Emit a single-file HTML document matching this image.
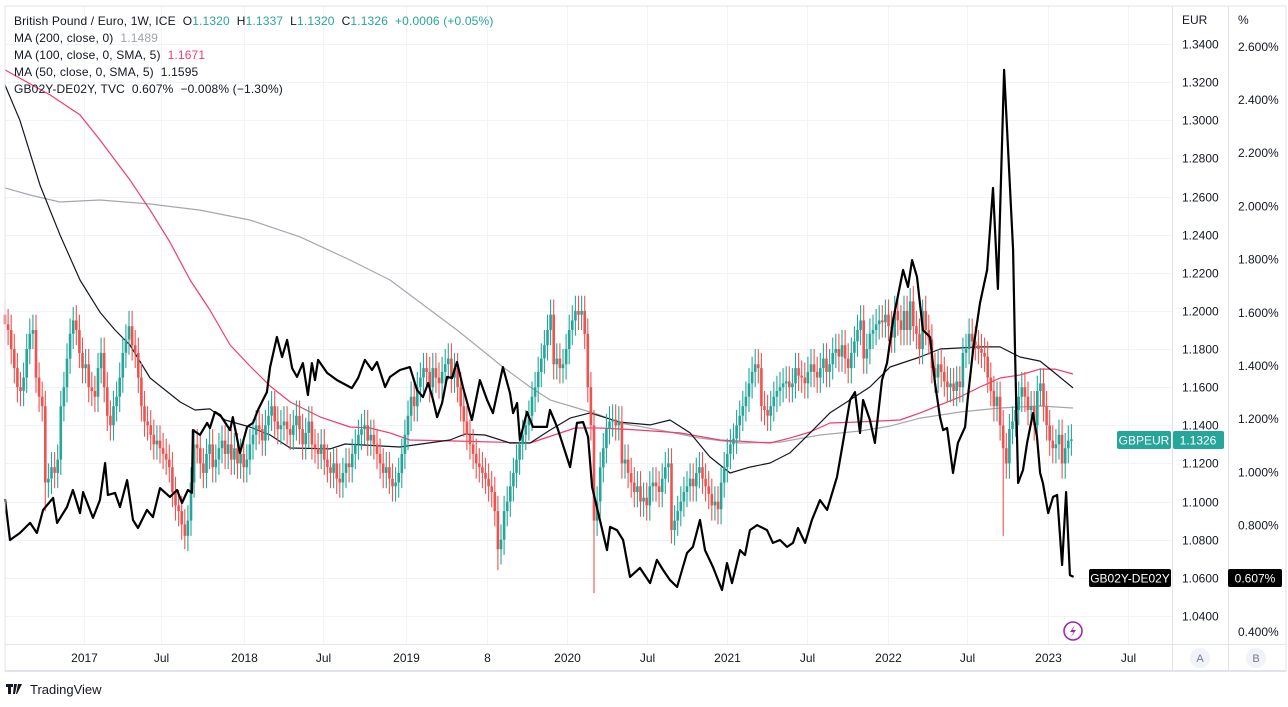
<!DOCTYPE html>
<html><head><meta charset="utf-8"><style>
html,body{margin:0;padding:0;background:#fff;}
body{width:1288px;height:702px;overflow:hidden;font-family:"Liberation Sans",sans-serif;}
svg text{font-family:"Liberation Sans",sans-serif;}
</style></head><body>
<svg id="chart" width="1288" height="702" viewBox="0 0 1288 702" xmlns="http://www.w3.org/2000/svg">
<rect x="0" y="0" width="1288" height="702" fill="#fff"/>
<g id="grid"></g>
<g id="ma"></g>
<g id="candles"></g>
<g id="spread"></g>
<g id="frame">
<line x1="5" y1="6" x2="1286" y2="6" stroke="#e0e3eb"/>
<line x1="5" y1="6" x2="5" y2="671" stroke="#e0e3eb"/>
<line x1="1286" y1="6" x2="1286" y2="671" stroke="#e0e3eb"/>
<line x1="1172.5" y1="6" x2="1172.5" y2="671" stroke="#e0e3eb"/>
<line x1="1228.5" y1="6" x2="1228.5" y2="671" stroke="#e0e3eb"/>
<line x1="5" y1="644.5" x2="1286" y2="644.5" stroke="#e0e3eb"/>
<line x1="5" y1="671" x2="1286" y2="671" stroke="#e0e3eb" stroke-width="2"/>
</g>
<g id="axes"></g>
<g font-size="12" fill="#131722" letter-spacing="0.15">
<text x="14" y="25" xml:space="preserve">British Pound / Euro, 1W, ICE  O<tspan fill="#26a69a">1.1320</tspan>  H<tspan fill="#26a69a">1.1337</tspan>  L<tspan fill="#26a69a">1.1320</tspan>  C<tspan fill="#26a69a">1.1326</tspan>  <tspan fill="#26a69a">+0.0006 (+0.05%)</tspan></text>
<text x="14" y="42" xml:space="preserve">MA (200, close, 0)  <tspan fill="#a0a3ab">1.1489</tspan></text>
<text x="14" y="59" xml:space="preserve">MA (100, close, 0, SMA, 5)  <tspan fill="#f23b6b">1.1671</tspan></text>
<text x="14" y="76" xml:space="preserve">MA (50, close, 0, SMA, 5)  1.1595</text>
<text x="14" y="93" xml:space="preserve">GB02Y-DE02Y, TVC  0.607%  −0.008% (−1.30%)</text>
</g>
<g>
<rect x="1117" y="431" width="54" height="18" rx="2" fill="#26a69a"/>
<text x="1144" y="444.5" text-anchor="middle" font-size="12" fill="#fff">GBPEUR</text>
<rect x="1173" y="431" width="51" height="18" rx="2" fill="#26a69a"/>
<text x="1198" y="444.5" text-anchor="middle" font-size="12" fill="#fff">1.1326</text>
</g>
<g>
<rect x="1089" y="569" width="82" height="18" rx="2" fill="#000"/>
<text x="1130" y="582.5" text-anchor="middle" font-size="12" fill="#fff">GB02Y-DE02Y</text>
<rect x="1228" y="569" width="54" height="18" rx="2" fill="#000"/>
<text x="1255" y="582.5" text-anchor="middle" font-size="12" fill="#fff">0.607%</text>
</g>
<g>
<circle cx="1073" cy="631" r="9" fill="none" stroke="#9c27b0" stroke-width="1.6"/>
<path d="M1075 625 L1070 632 L1073.5 632 L1071 637 L1076 630 L1072.5 630 Z" fill="#9c27b0"/>
</g>
<g><circle cx="1200" cy="658" r="10" fill="#f0f3fa"/><text x="1200" y="662" text-anchor="middle" font-size="11" fill="#787b86">A</text></g>
<g><circle cx="1256" cy="658" r="10" fill="#f0f3fa"/><text x="1256" y="662" text-anchor="middle" font-size="11" fill="#787b86">B</text></g>
<g>
<path d="M6 684 h7 v3 h-2 v7 h-3 v-7 h-2 z M14 684 h3 l-2 10 h-2 z M18 684 h4 l-5 10 h-1 z" fill="#131722"/>
<text x="30" y="694" font-size="13" fill="#131722">TradingView</text>
</g>
</svg>
<script>
// weekly closes, week 0 ~ early Jul 2016
const closes=[1.193,1.190,1.180,1.170,1.160,1.158,1.165,1.180,1.188,1.190,
1.165,1.155,1.150,1.110,1.112,1.118,1.115,1.122,1.150,1.160,
1.175,1.188,1.195,1.190,1.178,1.170,1.172,1.160,1.158,1.155,
1.170,1.178,1.160,1.145,1.140,1.150,1.155,1.165,1.178,1.185,
1.192,1.182,1.178,1.165,1.150,1.142,1.140,1.135,1.130,1.132,
1.128,1.125,1.122,1.118,1.105,1.098,1.095,1.088,1.082,1.090,
1.110,1.130,1.128,1.120,1.115,1.125,1.130,1.118,1.122,1.128,
1.132,1.125,1.130,1.122,1.128,1.120,1.125,1.118,1.122,1.130,
1.135,1.140,1.138,1.132,1.140,1.145,1.150,1.142,1.138,1.140,
1.142,1.138,1.135,1.140,1.145,1.138,1.130,1.136,1.142,1.130,
1.128,1.125,1.130,1.122,1.118,1.115,1.120,1.112,1.110,1.115,
1.120,1.118,1.125,1.130,1.135,1.138,1.140,1.132,1.135,1.130,
1.125,1.120,1.115,1.118,1.112,1.108,1.110,1.115,1.125,1.135,
1.145,1.155,1.150,1.160,1.165,1.170,1.168,1.160,1.170,1.165,
1.162,1.168,1.172,1.175,1.165,1.170,1.160,1.150,1.142,1.135,
1.130,1.125,1.120,1.118,1.115,1.112,1.108,1.105,1.095,1.075,
1.080,1.095,1.100,1.108,1.115,1.122,1.130,1.135,1.140,1.145,
1.155,1.160,1.168,1.175,1.182,1.190,1.198,1.172,1.175,1.170,
1.172,1.180,1.190,1.195,1.200,1.198,1.200,1.188,1.160,1.140,
1.090,1.100,1.118,1.128,1.138,1.142,1.143,1.140,1.142,1.120,
1.122,1.115,1.110,1.105,1.108,1.100,1.102,1.098,1.108,1.110,
1.108,1.105,1.112,1.118,1.120,1.085,1.090,1.095,1.100,1.105,
1.108,1.112,1.108,1.115,1.118,1.112,1.108,1.104,1.098,1.100,
1.096,1.110,1.118,1.125,1.130,1.133,1.140,1.145,1.150,1.155,
1.162,1.168,1.172,1.170,1.150,1.148,1.145,1.150,1.155,1.158,
1.160,1.162,1.163,1.160,1.162,1.170,1.166,1.165,1.162,1.168,
1.172,1.168,1.165,1.170,1.175,1.168,1.172,1.178,1.180,1.176,
1.182,1.175,1.170,1.178,1.184,1.190,1.195,1.175,1.180,1.188,
1.190,1.193,1.195,1.194,1.198,1.192,1.186,1.200,1.195,1.190,
1.200,1.190,1.205,1.192,1.188,1.180,1.200,1.190,1.185,1.170,
1.165,1.172,1.168,1.163,1.160,1.162,1.158,1.163,1.160,1.178,
1.180,1.188,1.184,1.182,1.180,1.178,1.176,1.165,1.158,1.150,
1.155,1.140,1.128,1.120,1.138,1.142,1.148,1.155,1.160,1.155,
1.148,1.150,1.140,1.158,1.162,1.150,1.140,1.132,1.128,1.130,
1.135,1.120,1.128,1.1320,1.1326];
const firstOpen=1.198;
// notable wick extremes [week, low]
const lowWicks=[[13,1.095],[58,1.075],[159,1.064],[190,1.052],[215,1.078],[322,1.082],[341,1.112]];
const highWicks=[[0,1.205],[22,1.202],[184,1.208],[292,1.212],[296,1.206]];
const eurTicks=[1.34,1.32,1.30,1.28,1.26,1.24,1.22,1.20,1.18,1.16,1.14,1.12,1.10,1.08,1.06,1.04];
const pctTicks=[2.6,2.4,2.2,2.0,1.8,1.6,1.4,1.2,1.0,0.8,0.6,0.4];
const timeLabels=["2017","Jul","2018","Jul","2019","8","2020","Jul","2021","Jul","2022","Jul","2023","Jul"];
const timeWeeks=[25.5,50.3,77.1,102.6,129.4,155.5,181.3,207.1,232.9,258.7,284.8,310.3,336.5,362.3];
const ma50=[[0,1.3185],[4.8,1.300],[11.3,1.266],[17.7,1.240],[24.2,1.2162],[30.6,1.1994],[35.5,1.190],[40.3,1.1821],[46.8,1.1648],[56.5,1.1522],[61.3,1.148],[66.1,1.1486],[71,1.1428],[79,1.1391],[85.5,1.1349],[92,1.1281],[104.8,1.1276],[109.7,1.1302],[127.4,1.1286],[143.5,1.1323],[148.4,1.1354],[154.8,1.1349],[162.9,1.1307],[169.4,1.1307],[175.8,1.1375],[182.3,1.1438],[188.7,1.1465],[198.4,1.1417],[208.1,1.1402],[214.5,1.1428],[221,1.136],[227.4,1.1234],[233.9,1.115],[240.3,1.1181],[246.8,1.1202],[253.2,1.1255],[259.7,1.136],[266.1,1.1465],[272.6,1.1533],[279,1.1601],[285.5,1.1706],[295.2,1.1758],[301.6,1.18],[314.5,1.1811],[321,1.1811],[327.4,1.1758],[333.9,1.1737],[338.7,1.1674],[344.5,1.1596]];
const ma100=[[0,1.3264],[14.5,1.3133],[24.2,1.3028],[30.6,1.2897],[40.3,1.2687],[46.8,1.2529],[53.2,1.2361],[59.7,1.2162],[66.1,1.2005],[72.6,1.1821],[79,1.1711],[85.5,1.1606],[92,1.1522],[101.6,1.1444],[111.3,1.1391],[117.7,1.1386],[124.2,1.136],[130.6,1.1323],[143.5,1.1318],[169.4,1.1307],[183.9,1.1386],[191.9,1.1386],[204.8,1.1375],[217.7,1.136],[230.6,1.1323],[246.8,1.1307],[253.2,1.1333],[259.7,1.1365],[266.1,1.1412],[274.2,1.1417],[288.7,1.1428],[295.2,1.1465],[301.6,1.1507],[308.1,1.1549],[314.5,1.1601],[321,1.1648],[327.4,1.1664],[333.9,1.1695],[338.7,1.1695],[344.5,1.1669]];
const ma200=[[0,1.2645],[8.1,1.2608],[17.7,1.2571],[30.6,1.2582],[46.8,1.2561],[62.9,1.2529],[79,1.2477],[95.2,1.2388],[111.3,1.2267],[124.2,1.2162],[145.8,1.19],[160.6,1.1706],[169.4,1.1601],[175.8,1.1533],[184.5,1.1491],[191.9,1.1454],[198.4,1.1412],[211.3,1.1375],[224.2,1.1333],[237.1,1.1307],[250,1.1312],[262.9,1.1349],[275.8,1.137],[285.5,1.1396],[295.2,1.1438],[308.1,1.147],[321,1.1491],[333.9,1.1501],[344.5,1.1491]];
const spreadWeeks=[0,1.6,4.8,8.1,10.3,12.3,15.5,16.8,20,21.9,24.2,25.2,28.4,30.6,32.3,33.2,35.5,37.1,39.4,41.3,42.9,45.8,47.7,50,53.2,55.5,57.1,59,60.3,60.6,62.9,65.2,66.1,67.7,69.4,72.6,73.5,75.8,78.1,80,81.6,83.2,84.5,85.5,87.7,89.4,91,92.6,94.2,96.1,97.7,99,100,101,103.9,107.1,111.9,113.9,116.1,118.4,120,122.6,124.2,127.4,130.6,132.9,134.8,136.5,138.1,139.4,141,142.6,144.2,145.8,147.7,150.6,153.2,155.5,157.4,160.6,162.9,163.9,165.2,166.1,168.4,170.3,174.8,175.8,178.1,182.3,184.5,186.5,188.1,189.4,191.9,194.2,195.2,197.4,199.4,201.6,204.8,208.1,210.3,212.3,214.5,216.8,220,221.9,224.2,225.8,228.4,231.3,232.9,234.5,237.1,238.7,240.3,242.6,245.8,247.7,250,252.3,254.2,255.8,258.1,260.3,262.9,265.2,268.4,270.3,272.6,274.2,275.8,276.8,279,280.6,282.9,284.5,286.5,289.7,291.3,292.6,294.2,296.1,298.4,300,301.6,302.6,303.9,305.8,307.4,309.7,310.6,312.3,314.5,316.8,318.7,320.3,322.3,325.2,325.8,326.8,328.4,329.7,331.6,332.9,333.9,334.8,336.5,338.1,339.4,341,342.3,343.5,344.7];
const spreadValues=[0.90,0.746,0.772,0.810,0.772,0.859,0.904,0.810,0.870,0.934,0.847,0.926,0.829,0.896,1.035,0.915,0.923,0.870,0.971,0.821,0.791,0.859,0.832,0.941,0.908,0.934,0.885,0.934,0.923,1.159,1.141,1.186,1.167,1.227,1.216,1.159,1.208,1.073,1.171,1.186,1.235,1.272,1.302,1.396,1.509,1.434,1.498,1.392,1.359,1.411,1.291,1.411,1.347,1.423,1.374,1.347,1.317,1.355,1.423,1.385,1.415,1.321,1.359,1.385,1.396,1.310,1.283,1.336,1.272,1.208,1.261,1.359,1.355,1.415,1.321,1.197,1.347,1.272,1.223,1.396,1.298,1.223,1.261,1.122,1.227,1.171,1.171,1.235,1.171,1.020,1.186,1.189,1.133,0.945,0.821,0.708,0.795,0.783,0.746,0.607,0.641,0.584,0.671,0.633,0.595,0.569,0.697,0.720,0.821,0.708,0.644,0.558,0.659,0.584,0.708,0.689,0.783,0.802,0.783,0.735,0.746,0.720,0.735,0.791,0.735,0.821,0.896,0.859,0.983,1.111,1.272,1.302,1.148,1.272,1.197,1.111,1.347,1.411,1.573,1.761,1.697,1.798,1.735,1.535,1.509,1.336,1.208,1.159,1.167,0.998,1.111,1.171,1.283,1.460,1.637,1.761,2.069,1.690,2.513,1.836,1.460,0.960,1.009,1.111,1.223,1.133,0.998,0.960,0.847,0.908,0.915,0.652,0.926,0.614,0.607];

const NS='http://www.w3.org/2000/svg';
const xOf=w=>5+w*3.1;
const yEur=p=>44+(1.34-p)/0.02*38.13;
const yPct=v=>632-(v-0.4)/0.2*53.2;
function mk(tag,attrs,parent){const e=document.createElementNS(NS,tag);for(const k in attrs)e.setAttribute(k,attrs[k]);parent.appendChild(e);return e;}

const grid=document.getElementById('grid'),axes=document.getElementById('axes');
eurTicks.forEach(t=>{
  const y=Math.round(yEur(t))+0.5;
  const gl=mk('line',{x1:5,x2:1172,y1:y,y2:y,stroke:'#f0f3fa'},grid);
  
  
  const tx=mk('text',{x:1182,y:y+4,'font-size':12,fill:'#131722'},axes);
  tx.textContent=t.toFixed(4);
  
  
});
pctTicks.forEach(t=>{
  const y=yPct(t);
  const tx=mk('text',{x:1238,y:y+4,'font-size':12,fill:'#131722'},axes);
  tx.textContent=t.toFixed(3)+'%';
  
  
});
timeLabels.forEach((l,i)=>{
  const x=Math.round(xOf(timeWeeks[i]))+0.5;
  const gl=mk('line',{x1:x,x2:x,y1:6,y2:644,stroke:'#f0f3fa'},grid);
  
  
  const tx=mk('text',{x:x,y:662,'font-size':12,fill:'#131722','text-anchor':'middle'},axes);
  tx.textContent=l;
  
  
});
{
  const t1=mk('text',{x:1182,y:24,'font-size':12,fill:'#131722'},axes);t1.textContent='EUR';
  
  
  const t2=mk('text',{x:1238,y:24,'font-size':12,fill:'#131722'},axes);t2.textContent='%';
  
  
}
function line(pts,fx,fy,color,w,name){
  const d=pts.map((p,i)=>(i?'L':'M')+fx(p[0]).toFixed(1)+' '+fy(p[1]).toFixed(1)).join(' ');
  const e=mk('path',{d:d,fill:'none',stroke:color,'stroke-width':w,'stroke-linejoin':'round'},document.getElementById(name==='spread-line'?'spread':'ma'));
  
  
}
line(ma200,xOf,yEur,'#a5a7ad',1.2,'ma-200-line');
line(ma100,xOf,yEur,'#f23b6b',1.2,'ma-100-line');
line(ma50,xOf,yEur,'#131722',1.2,'ma-50-line');

const cg=document.getElementById('candles');
const lowMap={},highMap={};
lowWicks.forEach(a=>lowMap[a[0]]=a[1]);
highWicks.forEach(a=>highMap[a[0]]=a[1]);
closes.forEach((c,i)=>{
  const o=i?closes[i-1]:firstOpen;
  const up=c>=o;
  const col=up?'#26a69a':'#ef5350';
  const x=xOf(i);
  const hi=highMap[i]!==undefined?highMap[i]:Math.max(o,c)+0.008;
  const lo=lowMap[i]!==undefined?lowMap[i]:Math.min(o,c)-0.008;
  const w=mk('line',{x1:x.toFixed(1),x2:x.toFixed(1),y1:yEur(hi).toFixed(1),y2:yEur(lo).toFixed(1),stroke:col,'stroke-width':1.1},cg);
  
  
  const yt=yEur(Math.max(o,c)),yb=yEur(Math.min(o,c));
  const b=mk('rect',{x:(x-1.3).toFixed(1),y:yt.toFixed(1),width:2.6,height:Math.max(1.5,yb-yt).toFixed(1),fill:col},cg);
  
  
});
line(spreadWeeks.map((w,i)=>[w,spreadValues[i]]),xOf,yPct,'#000',2.2,'spread-line');
</script>
</body></html>
